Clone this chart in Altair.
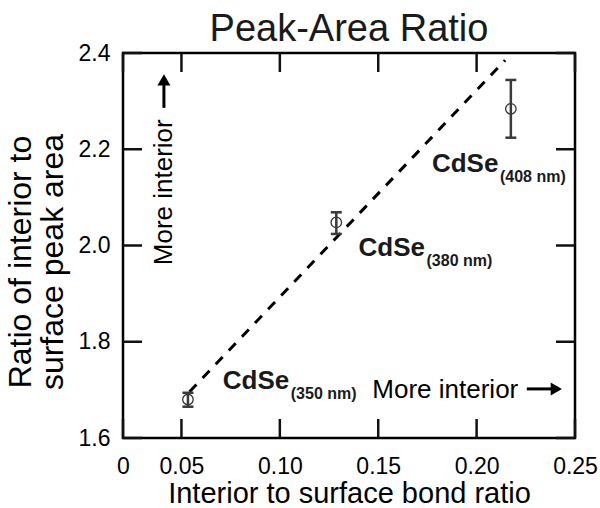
import altair as alt
import pandas as pd

FONT = "Liberation Sans"

# axis setup (the reference's x axis starts a little above 0.02 but is labelled "0")
x_domain = [0.0203, 0.25]
y_domain = [1.6, 2.4]
x_ticks = [0.0203, 0.05, 0.10, 0.15, 0.20, 0.25]
y_ticks = [1.6, 1.8, 2.0, 2.2, 2.4]

# data points
samples = ["350 nm", "380 nm", "408 nm"]
bond_ratio = [0.0533, 0.1287, 0.2174]
peak_ratio = [1.680, 2.048, 2.284]
err_low = [1.665, 2.024, 2.224]
err_high = [1.694, 2.069, 2.344]

# dashed trend line
fit_x = [0.0541, 0.2145]
fit_y = [1.696, 2.385]

# sample labels
label_x = [0.0710, 0.1400, 0.1773]
label_y = [1.702, 1.978, 2.153]
label_main = ["CdSe", "CdSe", "CdSe"]
label_sub = ["(350 nm)", "(380 nm)", "(408 nm)"]

# "More interior" annotations
note_text = ["More interior", "More interior"]
note_x = [0.1470, 0.0451]
note_y = [1.683, 1.959]
arrow_x1 = [0.2255, 0.0411]
arrow_x2 = [0.2395, 0.0411]
arrow_y1 = [1.702, 2.286]
arrow_y2 = [1.702, 2.342]
head_x = [0.2405, 0.0411]
head_y = [1.702, 2.344]
head_shape = ["triangle-right", "triangle-up"]

W, H = 452, 385
TICK = 19  # inward tick length in pixels

pts = pd.DataFrame({"sample": samples, "x": bond_ratio, "y": peak_ratio,
                    "lo": err_low, "hi": err_high})
fit = pd.DataFrame({"x": fit_x, "y": fit_y})
labels = pd.DataFrame({"x": label_x, "y": label_y, "main": label_main, "sub": label_sub})
notes_h = pd.DataFrame({"x": note_x[:1], "y": note_y[:1], "t": note_text[:1]})
notes_v = pd.DataFrame({"x": note_x[1:], "y": note_y[1:], "t": note_text[1:]})
arrows = pd.DataFrame({"x1": arrow_x1, "x2": arrow_x2, "y1": arrow_y1, "y2": arrow_y2,
                       "hx": head_x, "hy": head_y, "shape": head_shape})

# inward ticks drawn as tick marks centred half a tick length inside the frame
hdy = (y_domain[1] - y_domain[0]) * TICK / H / 2
hdx = (x_domain[1] - x_domain[0]) * TICK / W / 2
vt = pd.DataFrame({"tx": x_ticks * 2,
                   "ty": [y_domain[0] + hdy] * len(x_ticks) + [y_domain[1] - hdy] * len(x_ticks)})
ht = pd.DataFrame({"ty": y_ticks * 2,
                   "tx": [x_domain[0] + hdx] * len(y_ticks) + [x_domain[1] - hdx] * len(y_ticks)})

xs = alt.Scale(domain=x_domain, nice=False, zero=False)
ys = alt.Scale(domain=y_domain, nice=False, zero=False)

x_axis = alt.Axis(orient="bottom", values=x_ticks, ticks=False, domain=False, grid=False,
                  labelExpr="datum.value < 0.03 ? '0' : format(datum.value, '.2f')",
                  labelFont=FONT, labelFontSize=23, labelColor="black", labelPadding=17,
                  labelFlush=False, labelOverlap=False,
                  title="Interior to surface bond ratio", titleFont=FONT, titleFontSize=29,
                  titleFontWeight="normal", titleColor="black", titlePadding=1)
y_axis = alt.Axis(orient="left", values=y_ticks, format=".1f", ticks=False, domain=False,
                  grid=False, labelFont=FONT, labelFontSize=23, labelColor="black",
                  labelPadding=13, labelFlush=False, labelOverlap=False,
                  title=["Ratio of interior to", "surface peak area"], titleFont=FONT,
                  titleFontSize=32, titleFontWeight="normal", titleColor="black",
                  titlePadding=9, titleLineHeight=32, titleAlign="center",
                  titleY=H / 2 + 16, titleAngle=270)


def X(field):
    return alt.X(field, type="quantitative", scale=xs, axis=x_axis)


def Y(field):
    return alt.Y(field, type="quantitative", scale=ys, axis=y_axis)


vticks = alt.Chart(vt).mark_tick(color="#111111", orient="vertical", size=TICK, thickness=2.5,
                                 opacity=1).encode(x=X("tx"), y=Y("ty"))
hticks = alt.Chart(ht).mark_tick(color="#111111", orient="horizontal", size=TICK, thickness=2.5,
                                 opacity=1).encode(x=X("tx"), y=Y("ty"))

line = alt.Chart(fit).mark_line(color="black", strokeWidth=3, strokeDash=[10, 9]).encode(
    x=X("x"), y=Y("y"))

circles = alt.Chart(pts).mark_point(shape="circle", filled=False, size=110, color="#333333",
                                    strokeWidth=1.3, opacity=1).encode(x=X("x"), y=Y("y"))

bars = alt.Chart(pts).mark_rule(color="#3a3a3a", strokeWidth=2.5).encode(
    x=X("x"), y=Y("lo"), y2="hi:Q")
cap_lo = alt.Chart(pts).mark_tick(color="#3a3a3a", orient="horizontal", size=11, thickness=2.5,
                                  opacity=1).encode(x=X("x"), y=Y("lo"))
cap_hi = alt.Chart(pts).mark_tick(color="#3a3a3a", orient="horizontal", size=11, thickness=2.5,
                                  opacity=1).encode(x=X("x"), y=Y("hi"))

main_txt = alt.Chart(labels).mark_text(align="left", baseline="alphabetic", font=FONT,
                                       fontSize=26, fontWeight="bold", color="#1a1a1a").encode(
    x=X("x"), y=Y("y"), text="main:N")
sub_txt = alt.Chart(labels).mark_text(align="left", baseline="alphabetic", font=FONT,
                                      fontSize=16, fontWeight="bold", color="#1a1a1a",
                                      dx=68, dy=10).encode(
    x=X("x"), y=Y("y"), text="sub:N")

note_h = alt.Chart(notes_h).mark_text(
    align="left", baseline="alphabetic", font=FONT, fontSize=26, color="black").encode(
    x=X("x"), y=Y("y"), text="t:N")
note_v = alt.Chart(notes_v).mark_text(
    align="left", baseline="alphabetic", font=FONT, fontSize=26, color="black",
    angle=270).encode(x=X("x"), y=Y("y"), text="t:N")

arrow_shaft = alt.Chart(arrows).mark_rule(color="black", strokeWidth=3).encode(
    x=X("x1"), x2="x2:Q", y=Y("y1"), y2="y2:Q")
arrow_head = alt.Chart(arrows).mark_point(filled=True, size=170, color="black",
                                          opacity=1).encode(
    x=X("hx"), y=Y("hy"), shape=alt.Shape("shape:N", scale=None))

chart = alt.layer(
    vticks, hticks, line, circles, bars, cap_lo, cap_hi,
    main_txt, sub_txt, note_h, note_v, arrow_shaft, arrow_head
).properties(
    width=W, height=H,
    title=alt.TitleParams("Peak-Area Ratio", font=FONT, fontSize=38, fontWeight="normal",
                          color="#1a1a1a", anchor="middle", offset=-7),
    autosize=alt.AutoSizeParams(type="none"),
    padding={"left": 123, "top": 53, "right": 25, "bottom": 70},
).configure_view(stroke="black", strokeWidth=2.5)

chart.save("out.html", embed_options={"renderer": "svg", "actions": False})
